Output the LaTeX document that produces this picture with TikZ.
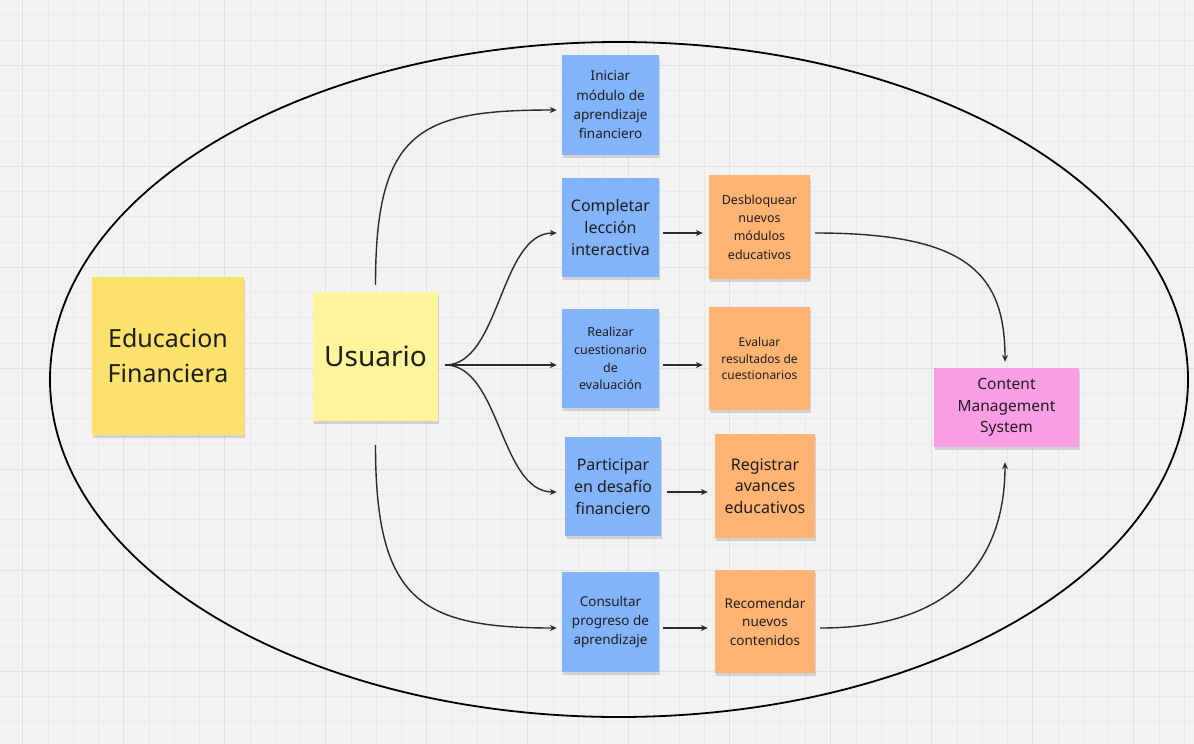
\documentclass[tikz,border=0pt]{standalone}
\usepackage{fontspec}
\setmainfont{Noto Sans}
\usetikzlibrary{arrows.meta,shadows}
\definecolor{bg}{HTML}{F2F2F2}
\definecolor{gridminor}{HTML}{E9E9E9}
\definecolor{gridmajor}{HTML}{E1E1E1}
\definecolor{ink}{HTML}{1E1E1E}
\definecolor{wire}{HTML}{2B2B2B}
\definecolor{ylwdark}{HTML}{FBE26C}
\definecolor{ylwlight}{HTML}{FDF49C}
\definecolor{blu}{HTML}{83B3F8}
\definecolor{orn}{HTML}{FDB372}
\definecolor{pnk}{HTML}{F99DE5}
\newcommand{\fsz}[2]{\fontsize{#1}{#2}\selectfont}
\tikzset{
  sticky/.style={align=center, inner sep=0pt, text=ink,
    drop shadow={shadow xshift=0.6pt, shadow yshift=-2.5pt, opacity=0.13, fill=black}},
  bluenote/.style={sticky, fill=blu, minimum width=97pt, minimum height=100pt},
  orangenote/.style={sticky, fill=orn, minimum width=101pt, minimum height=104pt},
  conn/.style={draw=wire, line width=1.4pt, -{Stealth[length=7pt,width=6pt]}},
  minorline/.style={draw=gridminor, line width=0.8pt},
  majorline/.style={draw=gridmajor, line width=1.1pt},
}
\begin{document}
\begin{tikzpicture}[x=1pt,y=-1pt]
% background and grid
\fill[bg] (0,0) rectangle (1194,744);
\useasboundingbox (0,0) rectangle (1194,744);
\foreach \i in {-1,...,47} { \draw[minorline] ({22.7+25.25*\i},0) -- ({22.7+25.25*\i},744); }
\foreach \i in {0,...,29} { \draw[minorline] (0,{14.8+25.25*\i}) -- (1194,{14.8+25.25*\i}); }
\foreach \i in {0,...,11} { \draw[majorline] ({22.7+101*\i},0) -- ({22.7+101*\i},744); }
\foreach \i in {0,...,6} { \draw[majorline] (0,{65.3+101*\i}) -- (1194,{65.3+101*\i}); }

% boundary ellipse
\draw[black, line width=1.8pt] (619,379.5) ellipse [x radius=569, y radius=337.5];

% notes
\node[sticky, fill=ylwdark, minimum width=152pt, minimum height=158pt, font=\fsz{25}{35}] (ef) at (168,356)
  {Educacion\\Financiera};
\node[sticky, fill=ylwlight, minimum width=125pt, minimum height=129pt, font=\fsz{28}{34}] (us) at (375.5,356.5)
  {Usuario};

\node[bluenote, font=\fsz{13.5}{19.3}] (ini) at (610.5,105) {Iniciar\\módulo de\\aprendizaje\\financiero};
\node[bluenote, minimum height=99pt, font=\fsz{16}{21.7}] (comp) at (610.5,227.5) {Completar\\lección\\interactiva};
\node[bluenote, minimum height=99pt, font=\fsz{12.5}{17.7}] (real) at (610.5,358.5) {Realizar\\cuestionario\\de\\evaluación};
\node[bluenote, minimum width=96pt, minimum height=99pt, font=\fsz{16}{21.7}] (part) at (613,486.5) {Participar\\en desafío\\financiero};
\node[bluenote, font=\fsz{13.5}{19}] (cons) at (610.5,622) {Consultar\\progreso de\\aprendizaje};

\node[orangenote, font=\fsz{12.5}{18.3}] (desb) at (759.5,227) {Desbloquear\\nuevos\\módulos\\educativos};
\node[orangenote, minimum height=103pt, font=\fsz{12}{16.7}] (eval) at (759.5,358.5) {Evaluar\\resultados de\\cuestionarios};
\node[orangenote, minimum width=100pt, font=\fsz{16}{21.7}] (reg) at (765,486) {Registrar\\avances\\educativos};
\node[orangenote, minimum width=100pt, minimum height=103pt, font=\fsz{13.5}{18.5}] (rec) at (765,621.5) {Recomendar\\nuevos\\contenidos};

\node[sticky, fill=pnk, minimum width=145pt, minimum height=79pt, font=\fsz{15.5}{21.7}] (cms) at (1006.5,407.5)
  {Content\\Management\\System};

% connectors from Usuario
\draw[conn] ([yshift=7pt]us.north) .. controls +(0,-155) and +(-137,0) .. ([xshift=-5pt,yshift=-5pt]ini.west);
\draw[conn] ([yshift=-24pt]us.south) .. controls +(0,155) and +(-137,0) .. ([xshift=-5pt,yshift=-6pt]cons.west);
\draw[conn] ([xshift=7pt,yshift=-8.5pt]us.east) .. controls +(55,0) and +(-57,0) .. ([xshift=-5pt,yshift=-5.5pt]comp.west);
\draw[conn] ([xshift=7pt,yshift=-8.5pt]us.east) -- ([xshift=-5pt,yshift=-6.5pt]real.west);
\draw[conn] ([xshift=7pt,yshift=-8.5pt]us.east) .. controls +(55,0) and +(-57,0) .. ([xshift=-8pt,yshift=-5.5pt]part.west);

% horizontal arrows
\draw[conn] ([xshift=4pt,yshift=-5.5pt]comp.east) -- ([xshift=-6pt,yshift=-5.5pt]comp.east -| desb.west);
\draw[conn] ([xshift=4pt,yshift=-6.5pt]real.east) -- ([xshift=-6pt,yshift=-6.5pt]real.east -| eval.west);
\draw[conn] ([xshift=6pt,yshift=-5.5pt]part.east) -- ([xshift=-7pt,yshift=-5.5pt]part.east -| reg.west);
\draw[conn] ([xshift=4pt,yshift=-6pt]cons.east) -- ([xshift=-7pt,yshift=-6pt]cons.east -| rec.west);

% to CMS
\draw[conn] ([xshift=5pt,yshift=-6pt]desb.east) .. controls +(150,0) and +(0,-90) .. ([xshift=-1.5pt,yshift=6pt]cms.north);
\draw[conn] ([xshift=5pt,yshift=-6.5pt]rec.east) .. controls +(140,0) and +(0,90) .. ([xshift=-1.5pt,yshift=-15pt]cms.south);
\end{tikzpicture}
\end{document}
